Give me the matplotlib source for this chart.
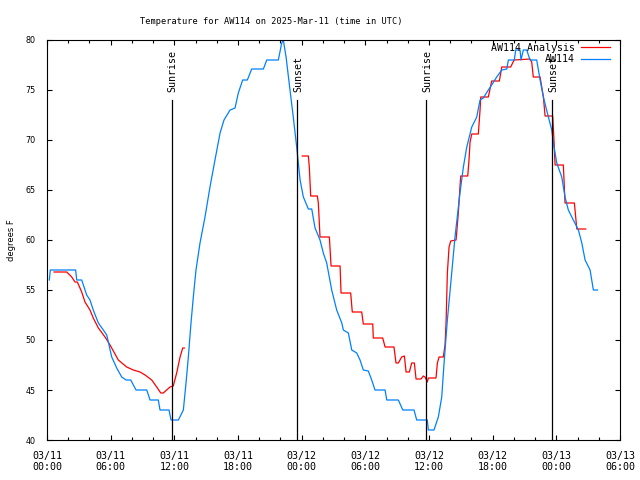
import numpy as np
import matplotlib
matplotlib.use("Agg")
import matplotlib.pyplot as plt
from matplotlib.ticker import MultipleLocator

# hours since 2025-03-11 00:00 UTC
obs_hours = [0.22, 0.31, 2.70, 2.80, 3.27, 3.74, 4.05, 4.36, 4.84, 5.31, 5.63, 6.10, 6.57, 7.04,
             7.45, 7.89, 8.39, 9.40, 9.71, 10.49, 10.65, 11.50, 11.69, 12.38, 12.85, 13.10, 13.32,
             13.57, 13.79, 14.04, 14.42, 14.89, 15.36, 15.83, 16.31, 16.68, 17.25, 17.72, 18.03,
             18.44, 18.88, 19.29, 20.39, 20.71, 21.80, 22.12, 22.27, 22.53, 22.90, 23.21, 23.53,
             23.85, 24.16, 24.63, 24.95, 25.26, 25.73, 26.04, 26.36, 26.83, 27.30, 27.78, 27.93,
             28.40, 28.72, 29.19, 29.50, 29.81, 30.28, 30.60, 30.91, 31.86, 32.02, 33.11, 33.53,
             34.59, 34.84, 35.84, 35.94, 36.47, 36.88, 37.20, 37.42, 37.73, 38.14, 38.45, 38.92,
             39.24, 39.56, 40.03, 40.50, 40.81, 41.12, 41.59, 41.91, 42.38, 42.86, 43.33, 43.48,
             44.04, 44.17, 44.58, 44.67, 44.89, 45.21, 45.52, 46.15, 46.47, 46.78, 47.25, 47.57,
             47.72, 48.04, 48.51, 48.82, 49.13, 49.60, 50.08, 50.40, 50.71, 51.18, 51.49, 51.87]
obs_temp = [56.0, 57.0, 57.0, 56.0, 56.0, 54.5, 54.0, 53.0, 51.7, 51.0, 50.5, 48.3, 47.2, 46.3,
            46.0, 46.0, 45.0, 45.0, 44.0, 44.0, 43.0, 43.0, 42.0, 42.0, 43.0, 45.7, 48.3,
            51.7, 54.3, 57.0, 59.7, 62.3, 65.3, 68.0, 70.7, 72.0, 73.0, 73.2, 74.7,
            76.0, 76.0, 77.1, 77.1, 78.0, 78.0, 79.7, 80.0, 78.3, 75.0, 72.3, 69.3,
            66.0, 64.3, 63.1, 63.1, 61.2, 60.0, 58.7, 57.7, 55.0, 53.0, 51.7, 51.0,
            50.7, 49.0, 48.7, 48.0, 47.0, 46.9, 46.0, 45.0, 45.0, 44.0, 44.0, 43.0,
            43.0, 42.0, 42.0, 41.0, 41.0, 42.3, 44.3, 47.7, 52.0, 56.7, 60.3, 64.7,
            67.3, 69.3, 71.3, 72.3, 74.0, 74.2, 75.0, 75.5, 76.3, 77.0, 77.1, 78.0,
            78.0, 79.0, 79.0, 78.0, 79.0, 79.0, 78.0, 78.0, 76.0, 74.3, 72.3, 71.0,
            69.7, 67.7, 66.3, 64.3, 63.0, 62.0, 61.0, 59.7, 58.0, 57.0, 55.0, 55.0]

ana_hours = [0.66, 1.86, 2.33, 2.64, 2.86, 3.27, 3.58, 4.05, 4.36, 4.84, 5.47, 5.94, 6.72, 7.51,
             8.13, 8.77, 9.24, 9.87, 10.34, 10.72, 10.96, 11.59, 11.90, 12.22, 12.54, 12.79, 12.94,
             18.0,
             24.06, 24.63, 24.72, 24.85, 25.48, 25.57, 25.73, 26.61, 26.77, 27.62, 27.71, 28.62,
             28.77, 29.66, 29.81, 30.70, 30.75, 31.64, 31.86, 32.70, 32.89, 33.11, 33.43, 33.68,
             33.84, 34.15, 34.37, 34.62, 34.78, 35.25, 35.47, 35.63, 35.84, 35.94, 36.66, 36.79,
             36.95, 37.35, 37.51, 37.61, 37.73, 37.89, 38.05, 38.55, 38.67, 38.77, 38.93, 38.99,
             39.65, 39.77, 39.87, 40.03, 40.65, 40.81, 40.88, 41.59, 41.91, 42.63, 42.86, 43.70,
             44.02, 45.52, 45.68, 45.83, 46.47, 46.78, 46.94, 47.66, 47.79, 47.88, 48.66, 48.82,
             49.70, 49.93, 50.77]
ana_temp = [56.8, 56.8, 56.3, 55.8, 55.8, 54.8, 53.8, 53.0, 52.2, 51.2, 50.3, 49.5, 48.0, 47.3,
            47.0, 46.8, 46.5, 46.0, 45.3, 44.7, 44.7, 45.3, 45.4, 46.7, 48.3, 49.2, 49.2,
            np.nan,
            68.4, 68.4, 67.3, 64.4, 64.4, 63.7, 60.3, 60.3, 57.4, 57.4, 54.7, 54.7,
            52.8, 52.8, 51.6, 51.6, 50.2, 50.2, 49.3, 49.3, 47.7, 47.7, 48.3, 48.4,
            46.8, 46.8, 47.7, 47.7, 46.1, 46.1, 46.4, 46.3, 45.8, 46.2, 46.2, 47.7,
            48.3, 48.3, 49.5, 51.8, 56.7, 59.3, 59.9, 60.0, 61.5, 62.8, 65.5, 66.4,
            66.4, 68.0, 69.8, 70.6, 70.6, 73.0, 74.3, 74.3, 75.9, 75.9, 77.3, 77.3,
            78.0, 78.1, 77.8, 76.3, 76.3, 74.3, 72.4, 72.4, 69.7, 67.5, 67.5, 63.7,
            63.7, 61.1, 61.1]

sun_hours = [11.75, 23.6, 35.73, 47.62]
sun_labels = ["Sunrise", "Sunset", "Sunrise", "Sunset"]

tick_labels = ["03/11\n00:00", "03/11\n06:00", "03/11\n12:00", "03/11\n18:00", "03/12\n00:00",
               "03/12\n06:00", "03/12\n12:00", "03/12\n18:00", "03/13\n00:00", "03/13\n06:00"]

mono = "DejaVu Sans Mono"

fig = plt.figure(figsize=(6.4, 4.8), dpi=100)
ax = fig.add_axes([47 / 640, 40 / 480, 573 / 640, 400 / 480])

ax.plot(ana_hours, ana_temp, color="#ff0000", lw=0.9, label="AW114 Analysis")
ax.plot(obs_hours, obs_temp, color="#0080ff", lw=0.9, label="AW114")

for h, lab in zip(sun_hours, sun_labels):
    ax.plot([h, h], [40, 74], color="black", lw=0.9)
    ax.text(h + 0.08, 74.8, lab, rotation=90, ha="center", va="bottom",
            family=mono, fontsize=7.2)

ax.set_xlim(0, 54)
ax.set_ylim(40, 80)
ax.set_xticks(np.arange(0, 55, 6))
ax.set_xticklabels(tick_labels, family=mono, fontsize=7.2, linespacing=1.15)
ax.xaxis.set_minor_locator(MultipleLocator(2))
ax.set_yticks(np.arange(40, 81, 5))
ax.tick_params(axis="y", labelsize=5.8, pad=8)
ax.tick_params(which="both", direction="in", top=True, right=True, width=0.8)
ax.tick_params(which="major", length=3.5)
ax.tick_params(which="minor", length=2)
ax.tick_params(axis="x", pad=8)
for s in ax.spines.values():
    s.set_linewidth(0.8)

ax.set_ylabel("degrees F", fontsize=6, labelpad=7)

leg = ax.legend(loc="upper right", bbox_to_anchor=(1 - 10 / 573, 1 - 3 / 400),
                frameon=False, markerfirst=False, borderpad=0, borderaxespad=0,
                handlelength=2.9, handletextpad=0.6, labelspacing=0.15,
                prop={"family": mono, "size": 7.2})

fig.text(271.5 / 640, 1 - 21 / 480, "Temperature for AW114 on 2025-Mar-11 (time in UTC)",
         ha="center", va="center", family=mono, fontsize=6.2)

fig.savefig("out.png", dpi=100)
